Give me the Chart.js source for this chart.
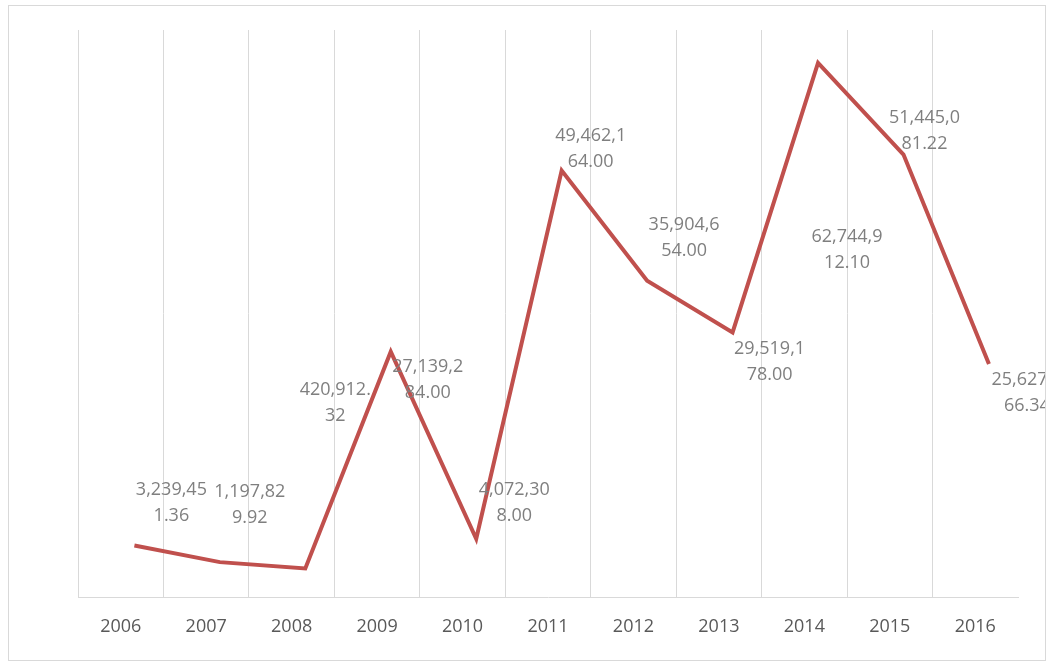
<!DOCTYPE html>
<html lang="en">
<head>
<meta charset="UTF-8">
<title>Yearly totals 2006-2016</title>
<style>
    body { margin: 0; background: #fff; overflow: hidden; }
    #wrap { width: 1052px; height: 662px; }
</style>
</head>
<body>
<div id="wrap"><canvas id="chart" width="1052" height="662"></canvas></div>

<script src="https://cdn.jsdelivr.net/npm/chart.js"></script>
<script>
// Data
const years = ['2006', '2007', '2008', '2009', '2010', '2011', '2012', '2013', '2014', '2015', '2016'];
const totals = [3239451.36, 1197829.92, 420912.32, 27139284.00, 4072308.00, 49462164.00,
                35904654.00, 29519178.00, 62744912.10, 51445081.22, 25627566.34];

// Label placement (px from the point, centre of the two-line block), like the hand-placed Excel labels
const labelDx = [37, 30, 30, 37, 38, 29, 37, 37, 29, 21, 38];
const labelDy = [-43, -57, -166, 28, -36, -22, -43, 29, 187, -24, 29];

// the line sits a bit right of the category centres in the original
const pointShift = 0.16;

const FONT = "'Open Sans', 'DejaVu Sans', sans-serif";
const GRID = '#d9d9d9';

// split "3,239,451.36" into "3,239,45" / "1.36" like the narrow label box does
function wrapLabel(v) {
    const s = v.toLocaleString('en-US', { minimumFractionDigits: 2, maximumFractionDigits: 2 });
    return [s.slice(0, 8), s.slice(8)];
}

const frame = {
    id: 'frame',
    afterDraw(chart) {
        const ctx = chart.ctx;
        ctx.save();
        ctx.strokeStyle = GRID;
        ctx.lineWidth = 1;
        ctx.strokeRect(8.5, 5.5, 1037, 655);
        ctx.restore();
    }
};

const valueLabels = {
    id: 'valueLabels',
    afterDatasetsDraw(chart) {
        const ctx = chart.ctx;
        const pts = chart.getDatasetMeta(0).data;
        ctx.save();
        ctx.beginPath();
        ctx.rect(9, 6, 1036, 654);
        ctx.clip();
        ctx.font = '18px ' + FONT;
        ctx.fillStyle = '#7f7f7f';
        ctx.textAlign = 'center';
        ctx.textBaseline = 'middle';
        pts.forEach((p, i) => {
            const lines = wrapLabel(totals[i]);
            const x = p.x + labelDx[i];
            const y = p.y + labelDy[i];
            ctx.fillText(lines[0], x, y - 13);
            ctx.fillText(lines[1], x, y + 13);
        });
        ctx.restore();
    }
};

new Chart(document.getElementById('chart'), {
    type: 'line',
    data: {
        labels: years,
        datasets: [{
            data: totals.map((v, i) => ({ x: i + pointShift, y: v })),
            xAxisID: 'xd',
            borderColor: '#c0504d',
            borderWidth: 4,
            pointRadius: 0,
            tension: 0,
            fill: false
        }]
    },
    options: {
        responsive: false,
        animation: false,
        layout: { padding: { left: 78, right: 34, top: 30, bottom: 0 } },
        plugins: { legend: { display: false }, tooltip: { enabled: false } },
        scales: {
            x: {
                type: 'category',
                offset: true,
                grid: {
                    offset: true,
                    drawTicks: false,
                    color: c => (c.index === undefined ? 'rgba(0,0,0,0)' : GRID),
                    lineWidth: 1
                },
                border: { color: GRID, width: 1 },
                ticks: { color: '#595959', font: { family: FONT, size: 18 }, padding: 19, maxRotation: 0 },
                afterFit(s) { s.height = 65; }
            },
            xd: {
                type: 'linear',
                axis: 'x',
                display: false,
                min: -0.5,
                max: 10.5
            },
            y: {
                display: false,
                min: -3.1e6,
                max: 66.8e6
            }
        }
    },
    plugins: [frame, valueLabels]
});
</script>
</body>
</html>
